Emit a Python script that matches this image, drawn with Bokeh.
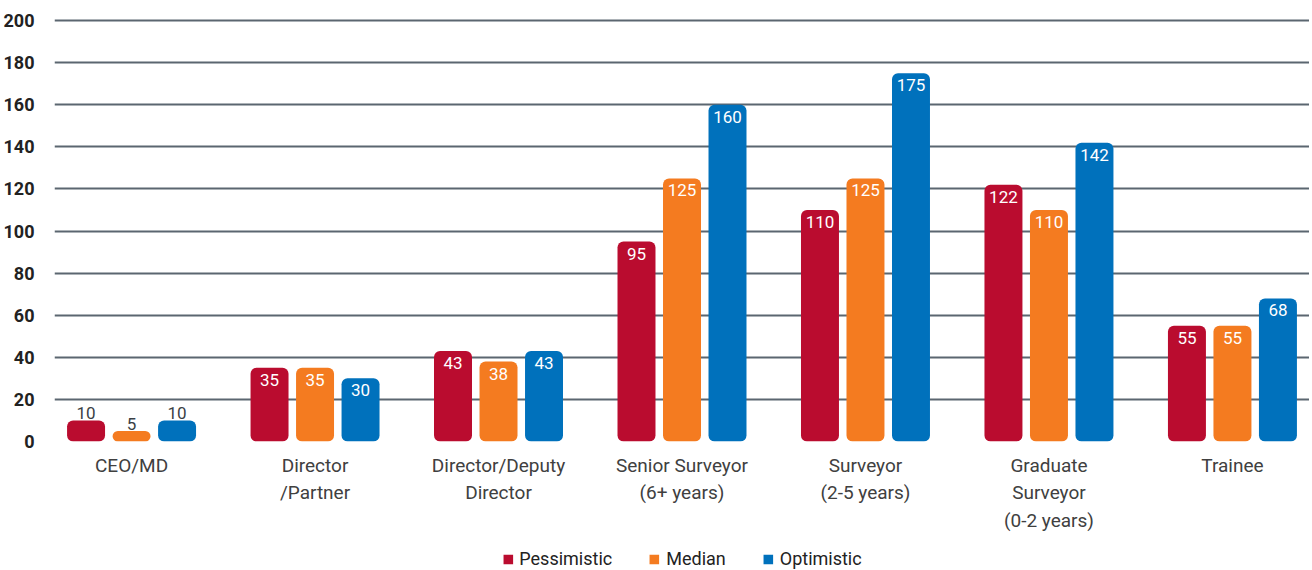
from bokeh.plotting import figure
from bokeh.layouts import column
from bokeh.models import ColumnDataSource, FixedTicker, Legend, LegendItem, Range1d
from bokeh.core.properties import value
from bokeh.embed import file_html
from bokeh.resources import INLINE

categories = ["CEO/MD", "Director\n/Partner", "Director/Deputy\nDirector",
              "Senior Surveyor\n(6+ years)", "Surveyor\n(2-5 years)",
              "Graduate\nSurveyor\n(0-2 years)", "Trainee"]
series = ["Pessimistic", "Median", "Optimistic"]
pessimistic = [10, 35, 43, 95, 110, 122, 55]
median = [5, 35, 38, 125, 125, 110, 55]
optimistic = [10, 30, 43, 160, 175, 142, 68]
y_ticks = [0, 20, 40, 60, 80, 100, 120, 140, 160, 180, 200]

colors = ["#BA0C2F", "#F47B20", "#0071BC"]
FONT = "Roboto"

p = figure(width=1309, height=534, output_backend="svg", toolbar_location=None,
           x_range=Range1d(-0.42, 6.42), y_range=Range1d(0, 201),
           min_border_top=18, min_border_right=0, min_border_left=10,
           min_border_bottom=0, outline_line_color=None)

offsets = [-0.248, 0.0, 0.248]
bw = 0.207
for s, vals, col, off in zip(series, [pessimistic, median, optimistic], colors, offsets):
    xs = [i + off for i in range(len(categories))]
    src = ColumnDataSource(dict(x=xs, top=vals))
    p.vbar(x="x", top="top", bottom=0, width=bw, source=src,
           fill_color=col, line_color=None, border_radius=6)
    inside = [v >= 20 for v in vals]
    src_in = ColumnDataSource(dict(x=[x for x, k in zip(xs, inside) if k],
                                   y=[v for v, k in zip(vals, inside) if k],
                                   lab=[str(v) for v, k in zip(vals, inside) if k]))
    src_out = ColumnDataSource(dict(x=[x for x, k in zip(xs, inside) if not k],
                                    y=[v for v, k in zip(vals, inside) if not k],
                                    lab=[str(v) for v, k in zip(vals, inside) if not k]))
    p.text(x="x", y="y", text="lab", source=src_in, text_align="center",
           text_baseline="top", y_offset=6, text_color="white",
           text_font=value(FONT), text_font_size="17px")
    p.text(x="x", y="y", text="lab", source=src_out, text_align="center",
           text_baseline="bottom", y_offset=-1, text_color="#3a3f45",
           text_font=value(FONT), text_font_size="17px")

p.xgrid.grid_line_color = None
p.ygrid.ticker = FixedTicker(ticks=y_ticks)
p.ygrid.grid_line_color = "#5b6670"
p.ygrid.grid_line_width = 2

p.yaxis.ticker = FixedTicker(ticks=y_ticks)
p.yaxis.axis_line_color = None
p.yaxis.major_tick_line_color = None
p.yaxis.minor_tick_line_color = None
p.yaxis.major_label_text_font = FONT
p.yaxis.major_label_text_font_size = "18px"
p.yaxis.major_label_text_font_style = "bold"
p.yaxis.major_label_text_color = "#222222"
p.yaxis.major_label_standoff = 14

p.xaxis.ticker = FixedTicker(ticks=list(range(len(categories))))
p.xaxis.major_label_overrides = {i: c for i, c in enumerate(categories)}
p.xaxis.axis_line_color = None
p.xaxis.major_tick_line_color = None
p.xaxis.minor_tick_line_color = None
p.xaxis.major_label_text_font = FONT
p.xaxis.major_label_text_font_size = "19px"
p.xaxis.major_label_text_color = "#404040"
p.xaxis.major_label_standoff = 6

# legend in a separate strip below the chart
lg = figure(width=1309, height=35, output_backend="svg", toolbar_location=None,
            x_range=Range1d(0, 1), y_range=Range1d(0, 1),
            min_border=0, outline_line_color=None)
lg.axis.visible = False
lg.grid.visible = False
items = []
for s, col in zip(series, colors):
    r = lg.vbar(x=[5], top=[1], width=0.1, fill_color=col, line_color=None)
    items.append(LegendItem(label=s, renderers=[r]))
legend = Legend(items=items, orientation="horizontal", location="bottom_center",
                label_text_font=FONT, label_text_font_size="18px",
                label_text_color="#222222",
                glyph_width=12, glyph_height=12, spacing=36, label_standoff=6,
                border_line_color=None, background_fill_alpha=0, padding=0, margin=0)
lg.add_layout(legend)

layout = column(p, lg, spacing=0)
open("out.html", "w").write(file_html(layout, INLINE))
